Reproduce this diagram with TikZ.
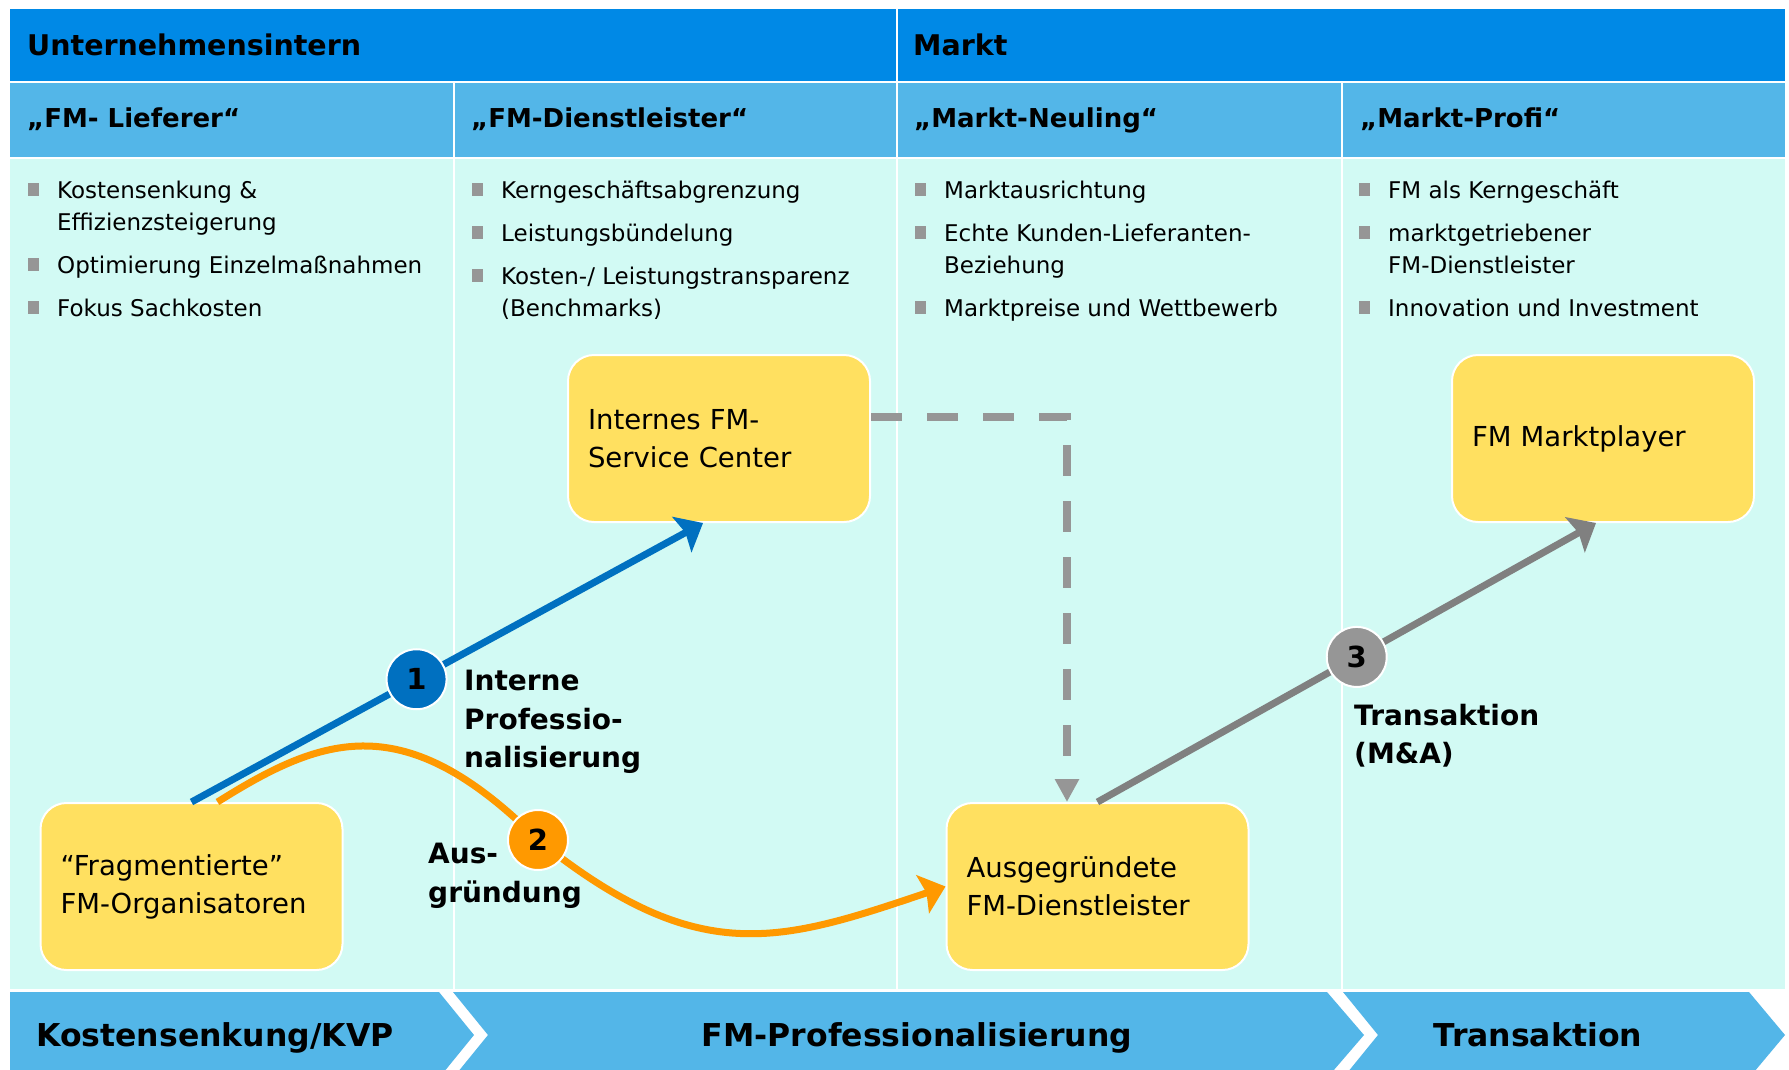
\documentclass[tikz,border=0pt]{standalone}
\usepackage{fontspec}
\setmainfont{DejaVu Sans}
\usetikzlibrary{arrows.meta,positioning}
\definecolor{topblue}{RGB}{0,137,230}
\definecolor{midblue}{RGB}{83,182,232}
\definecolor{cellcyan}{RGB}{210,250,244}
\definecolor{boxyellow}{RGB}{255,224,96}
\definecolor{intblue}{RGB}{0,112,192}
\definecolor{ausorange}{RGB}{255,153,0}
\definecolor{transgray}{RGB}{128,128,128}
\definecolor{dashgray}{RGB}{150,150,150}
\newcommand\bul{\textcolor{dashgray}{\rule[2.5pt]{11pt}{12.5pt}}}
\tikzset{
  >={Stealth[length=24pt,width=40pt,inset=4pt]},
  hdr/.style     ={anchor=west, inner sep=0pt, text height=21pt, text depth=0pt, font=\bfseries\fontsize{28.5}{30}\selectfont},
  subhdr/.style  ={anchor=west, inner sep=0pt, text height=19pt, text depth=0pt, font=\bfseries\fontsize{26}{28}\selectfont},
  blist/.style   ={anchor=base west, inner sep=0pt, font=\fontsize{23}{32}\selectfont},
  ybox/.style    ={rectangle, rounded corners=26pt, fill=boxyellow, draw=white, line width=2pt, text width=262pt, inner xsep=20pt, inner ysep=0pt, minimum height=167pt, align=left, font=\fontsize{27.5}{38}\selectfont},
  num/.style     ={circle, draw=white, line width=2pt, minimum size=60pt, inner sep=0pt, font=\bfseries\fontsize{29}{29}\selectfont},
  lbl/.style     ={anchor=north west, inner sep=0pt, align=left, font=\bfseries\fontsize{28}{38.5}\selectfont},
  phaselbl/.style={inner sep=0pt, text height=23pt, text depth=0pt, font=\bfseries\fontsize{31.5}{33}\selectfont},
  intarr/.style  ={->, draw=intblue, line width=7pt},
  ausarr/.style  ={->, draw=ausorange, line width=7pt},
  transarr/.style={->, draw=transgray, line width=7pt},
  dasharr/.style ={-{Triangle[length=23pt,width=23pt]}, draw=dashgray, line width=8pt, dash pattern=on 31pt off 25pt}
}

\begin{document}
\begin{tikzpicture}[x=1pt, y=-1pt]
\useasboundingbox (0,0) rectangle (1789,1069);
\clip (0,0) rectangle (1789,1069);
\fill[white] (0,0) rectangle (1789,1069);
\fill[topblue] (10,9) rectangle (896,81);
\fill[topblue] (898,9) rectangle (1785,81);
\foreach \xa/\xb in {10/453,455/896,898/1341,1343/1785}{
  \fill[midblue] (\xa,83) rectangle (\xb,157);
  \fill[cellcyan] (\xa,159) rectangle (\xb,989);
}
\fill[midblue] (10,992) -- (439,992) -- (474,1035) -- (439,1078) -- (10,1078) -- cycle;
\fill[midblue] (453,992) -- (1327,992) -- (1364,1035) -- (1327,1078) -- (453,1078) -- (488,1035) -- cycle;
\fill[midblue] (1343,992) -- (1749,992) -- (1785,1035) -- (1749,1078) -- (1343,1078) -- (1378,1035) -- cycle;

\node[hdr] (intern) at (27,45) {Unternehmensintern};
\node[hdr] (markt) at (913,45) {Markt};
\node[subhdr] (lief) at (27,118) {„FM- Lieferer“};
\node[subhdr] (dienst) at (471,118) {„FM-Dienstleister“};
\node[subhdr] (neuling) at (914,118) {„Markt-Neuling“};
\node[subhdr] (profi) at (1360,118) {„Markt-Profi“};

\node[blist] (lst1) at (28,198.4) {\begin{tabular}[t]{@{}l@{\hspace{18pt}}l@{}}
  \bul & Kostensenkung \&\\
       & Effizienzsteigerung\\[11pt]
  \bul & Optimierung Einzelmaßnahmen\\[11pt]
  \bul & Fokus Sachkosten
\end{tabular}};
\node[blist] (lst2) at (472,198.4) {\begin{tabular}[t]{@{}l@{\hspace{18pt}}l@{}}
  \bul & Kerngeschäftsabgrenzung\\[11pt]
  \bul & Leistungsbündelung\\[11pt]
  \bul & Kosten-/ Leistungstransparenz\\
       & (Benchmarks)
\end{tabular}};
\node[blist] (lst3) at (915,198.4) {\begin{tabular}[t]{@{}l@{\hspace{18pt}}l@{}}
  \bul & Marktausrichtung\\[11pt]
  \bul & Echte Kunden-Lieferanten-\\
       & Beziehung\\[11pt]
  \bul & Marktpreise und Wettbewerb
\end{tabular}};
\node[blist] (lst4) at (1359,198.4) {\begin{tabular}[t]{@{}l@{\hspace{18pt}}l@{}}
  \bul & FM als Kerngeschäft\\[11pt]
  \bul & marktgetriebener\\
       & FM-Dienstleister\\[11pt]
  \bul & Innovation und Investment
\end{tabular}};

\node[ybox] (isc) at (719,438.5) {Internes FM-\\Service Center};
\node[ybox] (mp) at (1603,438.5) {FM Marktplayer};
\node[ybox] (frag) at (191.5,886.5) {“Fragmentierte”\\FM-Organisatoren};
\node[ybox] (adl) at (1097.5,886.5) {Ausgegründete\\FM-Dienstleister};

\draw[dasharr] ([yshift=21.5pt]isc.east) -| ([xshift=-30.5pt]adl.north);
\draw[intarr] (frag.north) -- node[num, fill=intblue, pos=0.44] (n1) {1} ([xshift=-16pt]isc.south);
\draw[ausarr] ([xshift=26pt]frag.north) .. controls +(105,-66) and +(-134,-134) .. (538,840)
  node[num, fill=ausorange] (n2) {2}
  .. controls +(161,129) and +(-166,56) .. (adl.west);
\draw[transarr] (adl.north) -- node[num, fill=dashgray, pos=0.52] (n3) {3} ([xshift=-7pt]mp.south);

\node[lbl] (lint) at (464,670) {Interne\\Professio-\\nalisierung};
\node[lbl] (laus) at (428,843) {Aus-\\gründung};
\node[lbl] (ltrans) at (1354,704) {Transaktion\\(M\&A)};

\node[phaselbl, anchor=west] (kvp) at (36,1035) {Kostensenkung/KVP};
\node[phaselbl] (prof) at (917,1035) {FM-Professionalisierung};
\node[phaselbl] (trans) at (1538,1035) {Transaktion};
\end{tikzpicture}
\end{document}
